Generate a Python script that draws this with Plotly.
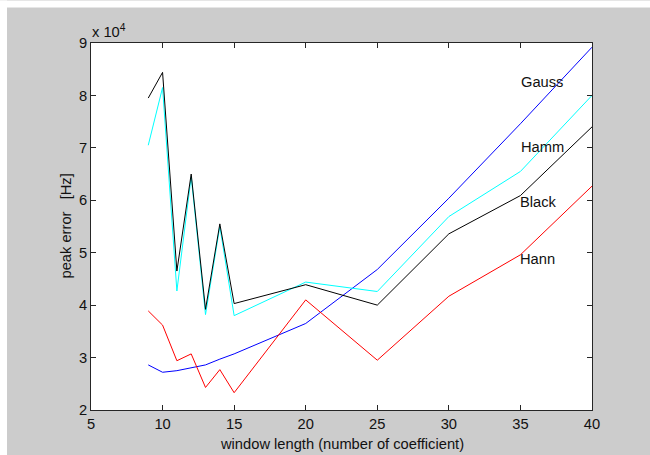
import plotly.graph_objects as go

# window length (number of coefficients)
window_len = [9, 10, 11, 12, 13, 14, 15, 20, 25, 30, 35, 40]

# peak error in Hz for each window type
gauss = [28600, 27200, 27500, 28100, 28600, 29700, 30700, 36500, 46800, 60400, 74600, 89200]
hamm = [70500, 81500, 42700, 64500, 38200, 55000, 38000, 44400, 42600, 56900, 65500, 80000]
black = [79500, 84400, 46500, 65000, 39200, 55500, 40300, 43900, 40000, 53600, 60900, 74000]
hann = [38900, 36200, 29400, 30700, 24300, 27700, 23300, 41000, 29500, 41700, 49600, 62700]

# y ticks are shown in units of 10^4 Hz
y_tickvals = [20000, 30000, 40000, 50000, 60000, 70000, 80000, 90000]
y_ticktext = ["2", "3", "4", "5", "6", "7", "8", "9"]
x_tickvals = [5, 10, 15, 20, 25, 30, 35, 40]

series_names = ["Gauss", "Hamm", "Black", "Hann"]
series_vals = [gauss, hamm, black, hann]
series_colors = ["#0000ff", "#00ffff", "#000000", "#ff0000"]
# label anchor positions (x, y) next to each curve
label_x = [34.9, 34.9, 34.8, 34.8]
label_y = [82500, 70200, 59600, 48800]

FONT = "Liberation Sans, Arial, Helvetica, sans-serif"
FS = 14.7

fig = go.Figure()
for name, vals, col in zip(series_names, series_vals, series_colors):
    fig.add_trace(go.Scatter(
        x=window_len, y=vals, mode="lines", name=name,
        line=dict(color=col, width=1), showlegend=False,
    ))

annotations = []
for name, lx, ly in zip(series_names, label_x, label_y):
    annotations.append(dict(
        x=lx, y=ly, xref="x", yref="y", text=name, showarrow=False,
        xanchor="left", yanchor="middle",
        font=dict(family=FONT, size=FS, color="#111"),
    ))

# plot area in pixels: left 91, right 592, top 42.5, bottom 410
L, R, T, B = 91, 592, 42.5, 410
W, H = 650, 455
pw, ph = R - L, B - T


def px_x(p):
    return (p - L) / pw


def px_y(p):
    return (B - p) / ph


annotations += [
    dict(x=px_x(341.5), y=px_y(444), xref="paper", yref="paper",
         text="window length (number of coefficient)", showarrow=False,
         xanchor="center", yanchor="middle",
         font=dict(family=FONT, size=FS, color="#111")),
    dict(x=px_x(65), y=0.5, xref="paper", yref="paper",
         text="peak error\u00a0\u00a0\u00a0[Hz]", textangle=-90, showarrow=False,
         xanchor="center", yanchor="middle",
         font=dict(family=FONT, size=FS, color="#111")),
    dict(x=px_x(90), y=px_y(30), xref="paper", yref="paper",
         text="x 10<sup>4</sup>", showarrow=False,
         xanchor="left", yanchor="middle",
         font=dict(family=FONT, size=FS, color="#111")),
]

# thin white border strips along the top and left edges of the figure
shapes = [
    dict(type="rect", xref="paper", yref="paper", layer="below",
         x0=px_x(0), x1=px_x(7), y0=px_y(W), y1=px_y(0),
         fillcolor="white", line=dict(width=0)),
    dict(type="rect", xref="paper", yref="paper", layer="below",
         x0=px_x(0), x1=px_x(W), y0=px_y(7), y1=px_y(0),
         fillcolor="white", line=dict(width=0)),
]

axis_common = dict(
    showgrid=False, zeroline=False, showline=True, linecolor="#262626",
    linewidth=1, mirror="ticks", ticks="inside", ticklen=5,
    tickcolor="#262626", tickwidth=1,
    tickfont=dict(family=FONT, size=FS, color="#111"),
)

fig.update_layout(
    width=W, height=H, autosize=False,
    margin=dict(l=L, r=W - R, t=T, b=H - B, pad=0),
    paper_bgcolor="#cccccc", plot_bgcolor="white",
    xaxis=dict(range=[5, 40], tickvals=x_tickvals, **axis_common),
    yaxis=dict(range=[20000, 90000], tickvals=y_tickvals, ticktext=y_ticktext,
               **axis_common),
    annotations=annotations, shapes=shapes,
)

fig.write_html("out.html")
